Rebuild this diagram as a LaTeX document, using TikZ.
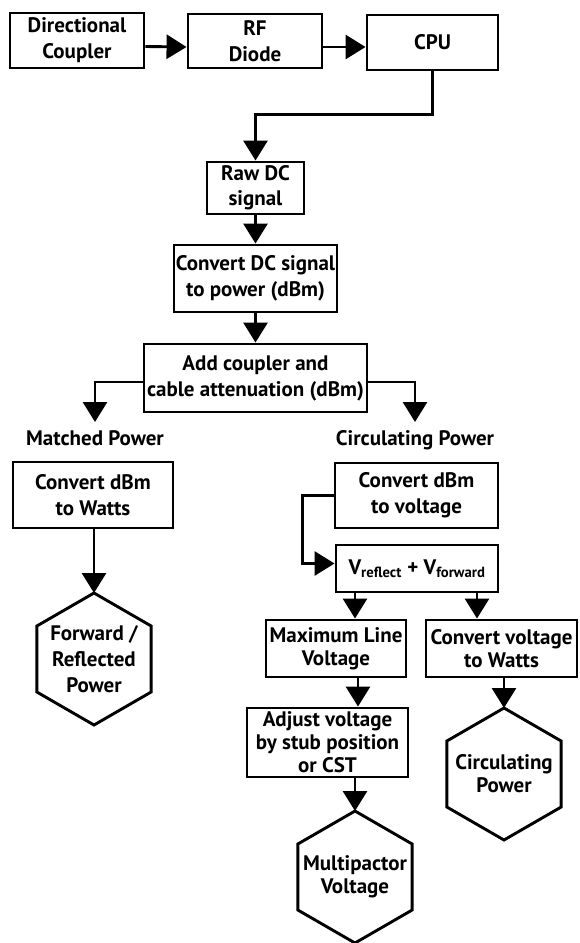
\documentclass[tikz,border=0pt]{standalone}
\usepackage{fontspec}
\setmainfont{PT Sans}
\usetikzlibrary{arrows.meta}
\begin{document}
\begin{tikzpicture}[x=1pt,y=1pt,
  lw/.style={line width=2.9pt},
  box/.style={draw, lw, rectangle, inner sep=0pt, align=center,
     font=\bfseries\fontsize{21}{26}\selectfont},
  tight/.style={font=\bfseries\fontsize{21}{23}\selectfont},
  lbl/.style={inner sep=0pt, align=center, font=\bfseries\fontsize{21}{26}\selectfont},
  arr/.style={lw, -{Triangle[length=20pt,width=24pt]}},
  hexline/.style={lw, line join=miter}
]
\useasboundingbox (0,0) rectangle (579,-943);

% top row
\node[box, minimum width=134, minimum height=55] (dc) at (77,-40.5) {Directional\\Coupler};
\node[box, minimum width=134, minimum height=54] (rf) at (255,-41) {RF\\Diode};
\node[box, minimum width=131, minimum height=55] (cpu) at (432.5,-42.5) {CPU};

\node[box, minimum width=97, minimum height=52, font=\bfseries\fontsize{21}{25}\selectfont] (raw) at (255.5,-188) {Raw DC\\signal};
\node[box, minimum width=163, minimum height=67] (cdc) at (255.5,-278.5) {Convert DC signal\\to power (dBm)};
\node[box, minimum width=223, minimum height=68] (add) at (255.5,-378) {Add coupler and\\cable attenuation (dBm)};

\node[lbl, anchor=north] (mp) at (95,-430) {Matched Power};
\node[lbl, anchor=north] (cp) at (415,-430) {Circulating Power};

% left branch
\node[box, minimum width=160, minimum height=66] (cdw) at (93,-495) {Convert dBm\\to Watts};
\node[lbl] (fr) at (94,-659) {Forward /\\Reflected\\Power};
\draw[hexline, shift={(fr.center)}] (90:66) -- (30:66) -- (-30:66) -- (-90:66) -- (-150:66) -- (150:66) -- cycle;
\coordinate (frtop) at ([yshift=66pt]fr.center);

% right branch
\node[box, minimum width=163, minimum height=65] (cdv) at (416.5,-495.5) {Convert dBm\\to voltage};
\node[box, minimum width=162, minimum height=47] (vb) at (417,-568.5) {V\textsubscript{reflect} + V\textsubscript{forward}};
\node[box, tight, minimum width=140, minimum height=57] (ml) at (336,-648.5) {Maximum Line\\Voltage};
\node[box, tight, minimum width=151, minimum height=57] (cvw) at (501.5,-648.5) {Convert voltage\\to Watts};
\node[box, tight, minimum width=161, minimum height=69] (adj) at (327.5,-742.5) {Adjust voltage\\by stub position\\or CST};

\node[lbl, tight] (mv) at (355,-877) {Multipactor\\Voltage};
\draw[hexline, shift={(mv.center)}] (90:66) -- (30:66) -- (-30:66) -- (-90:66) -- (-150:66) -- (150:66) -- cycle;
\coordinate (mvtop) at ([yshift=66pt]mv.center);

\node[lbl, tight] (cph) at (504,-774) {Circulating\\Power};
\draw[hexline, shift={(cph.center)}] (90:66) -- (30:66) -- (-30:66) -- (-90:66) -- (-150:66) -- (150:66) -- cycle;
\coordinate (cphtop) at ([yshift=66pt]cph.center);

% connectors
\draw[arr] ([yshift=-6pt]dc.east) -- ([yshift=-6pt]rf.west);
\draw[arr] ([yshift=-6pt]rf.east) -- ([yshift=-4.5pt]cpu.west);
\draw[arr] (cpu.south) -- ++(0,-43) -| (raw.north);
\draw[arr] (raw.south) -- (cdc.north);
\draw[arr] (cdc.south) -- (add.north);
\draw[arr] ([yshift=-4pt]add.west) -| ([yshift=8pt]mp.north);
\draw[arr] ([yshift=-4pt]add.east) -| ([yshift=8pt]cp.north);
\draw[arr] (cdw.south -| frtop) -- (frtop);
\draw[arr] (cdv.west) -- ++(-31,0) |- ([yshift=5pt]vb.west);
\draw[arr] ([xshift=-62pt]vb.south) -- ([xshift=-62pt]vb.south |- ml.north);
\draw[arr] ([xshift=60pt]vb.south) -- ([xshift=60pt]vb.south |- cvw.north);
\draw[arr] ([xshift=22pt]ml.south) -- ([xshift=22pt]ml.south |- adj.north);
\draw[arr] (adj.south -| mvtop) -- (mvtop);
\draw[arr] (cvw.south -| cphtop) -- (cphtop);
\end{tikzpicture}
\end{document}
